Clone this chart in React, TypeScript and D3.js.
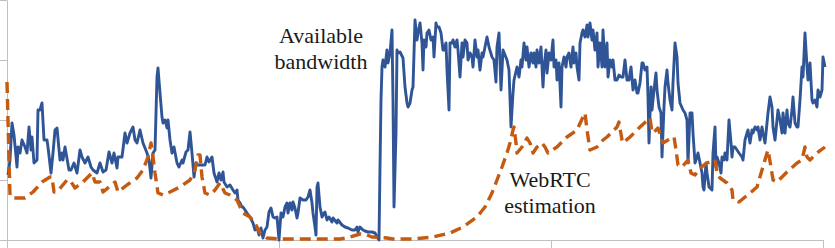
import React, { useEffect, useRef } from "react";
import * as d3 from "d3";

const W = 835;
const H = 248;

// Available bandwidth (time index, kbps)
const bwTime = [
  1, 3, 5, 7, 10, 11, 13, 15, 18, 20, 22, 24, 25, 27, 30, 31, 33, 35, 37, 40,
  41, 44, 46, 48, 50, 53, 55, 56, 58, 62, 64, 67, 70, 73, 75, 78, 81, 84, 86, 90,
  93, 96, 99, 102, 105, 107, 110, 111, 115, 118, 120, 123, 126, 128, 130, 133, 136, 140, 142, 144,
  146, 148, 150, 151, 153, 155, 156, 158, 160, 161, 163, 165, 167, 170, 172, 175, 176, 179, 181, 183,
  185, 187, 189, 191, 195, 198, 200, 202, 205, 207, 210, 212, 214, 216, 217, 220, 223, 226, 228, 230,
  231, 233, 235, 236, 240, 243, 246, 248, 250, 252, 254, 256, 258, 260, 262, 264, 266, 268, 270, 272,
  274, 276, 278, 280, 281, 283, 285, 286, 288, 290, 291, 293, 296, 299, 301, 303, 305, 306, 308, 309,
  310, 311, 313, 315, 317, 318, 320, 322, 325, 326, 330, 331, 335, 338, 341, 345, 348, 350, 351, 353,
  356, 358, 361, 365, 368, 370, 372, 373, 374, 375, 376, 378, 380, 381, 383, 385, 386, 387, 389, 390,
  391, 393, 396, 398, 400, 401, 403, 405, 406, 408, 410, 411, 413, 415, 416, 417, 419, 420, 422, 424,
  426, 427, 429, 430, 432, 434, 436, 437, 439, 440, 442, 443, 445, 446, 448, 450, 451, 453, 455, 456,
  458, 460, 461, 463, 465, 466, 468, 470, 471, 473, 475, 476, 478, 480, 482, 485, 487, 489, 490, 492,
  494, 496, 498, 500, 502, 504, 506, 507, 510, 512, 514, 515, 517, 519, 520, 522, 524, 526, 527, 529,
  530, 532, 534, 536, 537, 539, 540, 542, 544, 546, 547, 549, 550, 552, 554, 555, 557, 559, 560, 562,
  564, 566, 567, 569, 570, 572, 573, 575, 576, 578, 580, 581, 583, 585, 586, 588, 590, 591, 593, 595,
  596, 598, 600, 601, 603, 605, 606, 608, 610, 612, 614, 616, 618, 620, 622, 624, 626, 628, 630, 631,
  633, 635, 636, 638, 640, 641, 642, 644, 645, 647, 649, 650, 652, 654, 655, 657, 658, 660, 661, 663,
  665, 666, 668, 670, 671, 673, 676, 678, 680, 681, 683, 685, 686, 688, 690, 691, 693, 695, 696, 697,
  699, 700, 702, 705, 706, 708, 709, 710, 712, 714, 715, 717, 718, 720, 721, 722, 724, 725, 726, 728,
  730, 732, 735, 736, 738, 740, 741, 743, 745, 746, 748, 750, 751, 753, 755, 756, 758, 760, 761, 763,
  765, 766, 768, 770, 771, 773, 775, 776, 778, 780, 781, 783, 785, 786, 788, 790, 791, 793, 795, 796,
  798, 800, 801, 803, 805, 806, 808, 810, 811, 813, 815, 816, 818,
];
const bwKbps = [
  650, 800, 1170, 1050, 730, 930, 870, 1000, 930, 870, 1130, 900, 1030, 770, 800, 1300, 1300, 1370, 1000, 1000,
  930, 670, 870, 1100, 1120, 800, 870, 800, 930, 700, 700, 770, 670, 900, 830, 770, 830, 730, 700, 670,
  770, 680, 700, 880, 770, 870, 720, 830, 830, 1070, 970, 1070, 1130, 1000, 970, 1100, 970, 870, 800, 620,
  870, 900, 1630, 1720, 1470, 1230, 1170, 1200, 1120, 1200, 1000, 870, 930, 770, 730, 800, 770, 880, 900, 1080,
  870, 630, 770, 750, 750, 750, 830, 780, 830, 670, 580, 670, 600, 680, 580, 530, 550, 500, 470, 500,
  400, 370, 330, 330, 270, 230, 170, 100, 130, 50, 120, 20, 100, 130, 280, 320, 230, 220, 230, 0,
  270, 230, 330, 370, 270, 370, 300, 380, 320, 220, 270, 420, 400, 400, 430, 500, 370, 270, 130, 50,
  530, 570, 330, 230, 270, 280, 200, 230, 180, 220, 170, 200, 150, 130, 120, 100, 100, 130, 80, 130,
  100, 90, 80, 80, 70, 30, 0, 730, 1400, 1730, 1800, 1730, 1900, 1770, 1870, 2100, 1400, 330, 1070, 1900,
  1870, 1880, 1820, 1530, 1370, 1330, 1370, 1500, 1530, 2200, 2000, 2070, 2170, 1970, 1700, 2000, 1930, 2070, 2100, 2000,
  2030, 1830, 2170, 2130, 2130, 2070, 1900, 1900, 1970, 1700, 1300, 1970, 1970, 2000, 1930, 2000, 1900, 1630, 1970, 1830,
  2000, 1970, 1800, 1870, 1830, 1730, 2000, 1830, 1900, 1700, 1870, 1830, 1930, 2030, 1930, 1830, 1800, 1580, 1930, 2070,
  1500, 1900, 1850, 1800, 1700, 1130, 1470, 1600, 1730, 1630, 1800, 1730, 1970, 1800, 1930, 1730, 1870, 1770, 1870, 1730,
  1900, 1770, 1930, 1530, 1730, 1900, 1670, 1870, 1800, 2000, 1730, 1800, 1600, 1770, 1330, 1730, 1830, 1730, 1830, 1870,
  1730, 1930, 1770, 1870, 1730, 1600, 1970, 2070, 2100, 2030, 2150, 2030, 2170, 2000, 2100, 1900, 2070, 1730, 1970, 1730,
  2100, 1730, 1970, 1630, 1800, 1730, 1800, 1600, 1600, 1650, 1630, 1630, 1800, 1600, 1600, 1730, 1500, 1600, 1470, 1470,
  1570, 1770, 1770, 1700, 1730, 1430, 970, 1530, 1300, 1500, 1670, 1500, 1330, 1270, 830, 1330, 1530, 1700, 1570, 1400,
  1300, 1570, 1970, 1830, 1570, 1370, 1300, 1270, 1200, 770, 1270, 1270, 1070, 770, 830, 870, 770, 670, 530, 500,
  770, 670, 530, 500, 870, 1130, 730, 830, 770, 670, 830, 800, 870, 800, 1000, 1200, 970, 830, 930, 930,
  900, 870, 830, 800, 1000, 1070, 1100, 970, 1100, 1070, 1130, 1100, 1130, 1000, 1130, 1070, 970, 1170, 1270, 1430,
  1330, 1130, 1000, 1200, 1300, 1200, 1070, 1270, 1070, 1300, 1170, 1130, 1300, 1430, 1170, 1130, 1130, 1400, 1730, 1630,
  2070, 1730, 1600, 1770, 1400, 1370, 1400, 1330, 1500, 1430, 1500, 1830, 1730,
];

// WebRTC estimation (time index, kbps)
const estTime = [
  0, 2, 3, 5, 10, 18, 26, 35, 43, 45, 47, 50, 60, 63, 68, 76, 85, 88, 93, 96,
  108, 111, 120, 130, 136, 141, 144, 146, 148, 151, 156, 163, 173, 183, 188, 191, 193, 195, 198, 203,
  208, 213, 218, 223, 230, 236, 243, 248, 253, 260, 273, 333, 343, 353, 360, 365, 380, 386, 406, 426,
  443, 456, 470, 478, 485, 490, 495, 500, 503, 506, 507, 509, 510, 515, 520, 523, 526, 530, 535, 538,
  541, 550, 560, 570, 576, 578, 580, 583, 590, 596, 600, 610, 612, 615, 616, 623, 633, 643, 645, 646,
  651, 655, 656, 661, 667, 669, 671, 675, 681, 684, 688, 693, 700, 708, 710, 713, 720, 725, 726, 732,
  743, 750, 755, 760, 761, 764, 766, 770, 780, 790, 795, 798, 800, 803, 810, 818,
];
const estKbps = [
  1580, 800, 450, 420, 420, 420, 480, 580, 630, 630, 480, 480, 600, 600, 520, 580, 670, 580, 580, 480,
  580, 480, 550, 620, 700, 830, 970, 830, 670, 470, 450, 480, 530, 600, 700, 850, 850, 630, 470, 450,
  500, 570, 470, 450, 400, 270, 230, 170, 70, 20, 10, 10, 30, 60, 50, 30, 20, 10, 10, 30,
  70, 130, 230, 330, 470, 600, 730, 870, 970, 1100, 1130, 970, 870, 930, 1020, 970, 870, 930, 970, 930,
  870, 930, 1030, 1100, 1230, 1270, 1100, 900, 930, 1000, 1030, 1130, 1180, 1000, 970, 1030, 1130, 1220, 1080, 1070,
  1120, 1000, 970, 1000, 1030, 900, 750, 730, 800, 670, 650, 720, 770, 800, 670, 620, 570, 500, 400, 380,
  470, 530, 700, 870, 900, 730, 600, 580, 680, 770, 800, 930, 830, 800, 870, 930,
];

const yTicks = [0, 600, 1200, 1800, 2400];
const xTicks = [0, 272, 544, 816];

const labels = [
  { lines: ["Available", "bandwidth"], t: 314, v: 1970 },
  { lines: ["WebRTC", "estimation"], t: 543, v: 530 },
];

const SERIF = "'Liberation Serif', 'Times New Roman', serif";

export default function App() {
  const xAxisRef = useRef<SVGGElement>(null);
  const yAxisRef = useRef<SVGGElement>(null);

  const x = d3.scaleLinear().domain([0, 816]).range([7, 823]);
  const y = d3.scaleLinear().domain([0, 2400]).range([240, 0]);

  const bw = bwTime.map((t, i) => [t, bwKbps[i]] as [number, number]);
  const est = estTime.map((t, i) => [t, estKbps[i]] as [number, number]);

  const line = d3
    .line<[number, number]>()
    .x((d) => x(d[0]))
    .y((d) => y(d[1]));

  useEffect(() => {
    if (yAxisRef.current) {
      const g = d3.select(yAxisRef.current);
      g.call(
        d3
          .axisLeft(y)
          .tickValues(yTicks)
          .tickSize(7)
          .tickSizeOuter(0)
          .tickFormat(() => "")
      );
      g.selectAll("path, line").attr("stroke", "#bfbfbf");
    }
    if (xAxisRef.current) {
      const g = d3.select(xAxisRef.current);
      g.call(
        d3
          .axisBottom(x)
          .tickValues(xTicks)
          .tickSize(8)
          .tickSizeOuter(0)
          .tickFormat(() => "")
      );
      g.selectAll("path, line").attr("stroke", "#bfbfbf");
    }
  }, []);

  return (
    <svg
      width={W}
      height={H}
      style={{ position: "absolute", left: 0, top: 0, background: "#fff" }}
    >
      <g ref={yAxisRef} transform={`translate(7,0)`} />
      <g ref={xAxisRef} transform={`translate(0,240)`} />
      <path
        d={line(bw) || ""}
        fill="none"
        stroke="#2F5597"
        strokeWidth={2.9}
        strokeLinejoin="round"
      />
      <path
        d={line(est) || ""}
        fill="none"
        stroke="#C55A11"
        strokeWidth={3.4}
        strokeDasharray="11,6"
        strokeLinejoin="round"
      />
      {labels.map((lb, i) => (
        <text
          key={i}
          x={x(lb.t)}
          y={y(lb.v)}
          textAnchor="middle"
          style={{ fontFamily: SERIF, fontSize: "22px" }}
          fill="#1a1a1a"
        >
          {lb.lines.map((ln, j) => (
            <tspan key={j} x={x(lb.t)} dy={j === 0 ? 0 : 26}>
              {ln}
            </tspan>
          ))}
        </text>
      ))}
    </svg>
  );
}
